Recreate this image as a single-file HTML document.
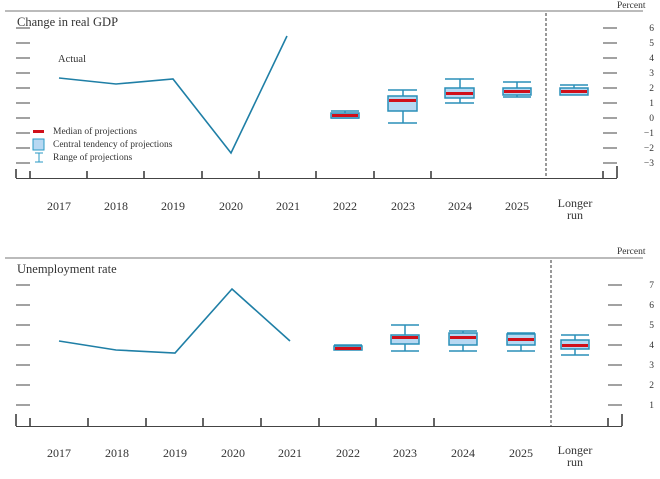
<!DOCTYPE html>
<html><head><style>
body{margin:0;background:#fff;width:660px;height:474px;overflow:hidden}
svg text{font-family:"Liberation Serif",serif;fill:#333}
</style></head><body>
<svg width="660" height="474" viewBox="0 0 660 474" xmlns="http://www.w3.org/2000/svg">
<!-- TOP CHART -->
<line x1="5" y1="11" x2="643" y2="11" stroke="#777" stroke-width="1"/>
<text x="617" y="8" font-size="9.5">Percent</text>
<text x="17" y="26" font-size="12.5" fill="#222">Change in real GDP</text>
<g stroke="#444" stroke-width="1">
<line x1="16" y1="28" x2="30" y2="28"/><line x1="16" y1="43" x2="30" y2="43"/><line x1="16" y1="58" x2="30" y2="58"/><line x1="16" y1="73" x2="30" y2="73"/><line x1="16" y1="88" x2="30" y2="88"/><line x1="16" y1="103" x2="30" y2="103"/><line x1="16" y1="118" x2="30" y2="118"/><line x1="16" y1="133" x2="30" y2="133"/><line x1="16" y1="148" x2="30" y2="148"/><line x1="16" y1="163" x2="30" y2="163"/>
<line x1="603" y1="28" x2="617" y2="28"/><line x1="603" y1="43" x2="617" y2="43"/><line x1="603" y1="58" x2="617" y2="58"/><line x1="603" y1="73" x2="617" y2="73"/><line x1="603" y1="88" x2="617" y2="88"/><line x1="603" y1="103" x2="617" y2="103"/><line x1="603" y1="118" x2="617" y2="118"/><line x1="603" y1="133" x2="617" y2="133"/><line x1="603" y1="148" x2="617" y2="148"/><line x1="603" y1="163" x2="617" y2="163"/>
<line x1="16" y1="178.5" x2="617" y2="178.5"/>
</g>
<g stroke="#333" stroke-width="1.5">
<line x1="16" y1="169" x2="16" y2="178"/><line x1="30" y1="171" x2="30" y2="178"/><line x1="87" y1="171" x2="87" y2="178"/><line x1="144" y1="171" x2="144" y2="178"/><line x1="202" y1="171" x2="202" y2="178"/><line x1="259" y1="171" x2="259" y2="178"/><line x1="316" y1="171" x2="316" y2="178"/><line x1="374" y1="171" x2="374" y2="178"/><line x1="431" y1="171" x2="431" y2="178"/><line x1="603" y1="171" x2="603" y2="178"/><line x1="617" y1="166" x2="617" y2="178"/>
</g>
<line x1="546" y1="13" x2="546" y2="178" stroke="#333" stroke-dasharray="3,2"/>
<g font-size="9.5" fill="#555" text-anchor="end">
<text x="654" y="31">6</text><text x="654" y="46">5</text><text x="654" y="61">4</text><text x="654" y="76">3</text><text x="654" y="91">2</text><text x="654" y="106">1</text><text x="654" y="121">0</text><text x="654" y="136">−1</text><text x="654" y="151">−2</text><text x="654" y="166">−3</text>
</g>
<g font-size="12" fill="#444" text-anchor="middle">
<text x="59" y="210">2017</text><text x="116" y="210">2018</text><text x="173" y="210">2019</text><text x="231" y="210">2020</text><text x="288" y="210">2021</text><text x="345" y="210">2022</text><text x="403" y="210">2023</text><text x="460" y="210">2024</text><text x="517" y="210">2025</text>
<text x="575" y="207" fill="#222">Longer</text><text x="575" y="219" fill="#222">run</text>
</g>
<text x="58" y="62" font-size="10.5" fill="#222">Actual</text>
<polyline points="59,78 116,84 173,79 231,153 287,36" fill="none" stroke="#1f7fa6" stroke-width="1.6"/>
<!-- legend -->
<rect x="33" y="130" width="11" height="3" fill="#d0101a"/>
<rect x="33" y="139" width="11" height="11" fill="#b7d8f2" stroke="#2a9ac4"/>
<line x1="35" y1="153" x2="43" y2="153" stroke="#2a9ac4"/><line x1="39" y1="153" x2="39" y2="162" stroke="#2a9ac4"/><line x1="35" y1="162" x2="43" y2="162" stroke="#2a9ac4"/>
<g font-size="9.5" fill="#222"><text x="53" y="134">Median of projections</text><text x="53" y="147">Central tendency of projections</text><text x="53" y="160">Range of projections</text></g>
<g stroke="#2a8fb8" stroke-width="1.5" fill="#b7d8f2">
<!-- 2022 -->
<line x1="345" y1="111" x2="345" y2="118"/><line x1="331" y1="111" x2="359" y2="111"/><line x1="331" y1="118" x2="359" y2="118"/><rect x="331" y="113" width="28" height="5"/>
<!-- 2023 -->
<line x1="403" y1="90" x2="403" y2="123"/><line x1="388" y1="90" x2="417" y2="90"/><line x1="388" y1="123" x2="417" y2="123"/><rect x="388" y="96" width="29" height="15"/>
<!-- 2024 -->
<line x1="460" y1="79" x2="460" y2="103"/><line x1="445" y1="79" x2="474" y2="79"/><line x1="445" y1="103" x2="474" y2="103"/><rect x="445" y="88" width="29" height="10"/>
<!-- 2025 -->
<line x1="517" y1="82" x2="517" y2="97"/><line x1="503" y1="82" x2="531" y2="82"/><line x1="503" y1="97" x2="531" y2="97"/><rect x="503" y="88" width="28" height="7"/>
<!-- LR -->
<line x1="574" y1="85" x2="574" y2="95"/><line x1="560" y1="85" x2="588" y2="85"/><rect x="560" y="88" width="28" height="7"/>
</g>
<g fill="#d0101a">
<rect x="332" y="114" width="26" height="3"/><rect x="389" y="99" width="27" height="3"/><rect x="446" y="92" width="27" height="3"/><rect x="504" y="90" width="26" height="3"/><rect x="561" y="90" width="26" height="3"/>
</g>

<!-- BOTTOM CHART -->
<line x1="5" y1="258" x2="643" y2="258" stroke="#777"/>
<text x="617" y="254" font-size="9.5">Percent</text>
<text x="17" y="273" font-size="12.5" fill="#222">Unemployment rate</text>
<g stroke="#444" stroke-width="1">
<line x1="16" y1="285" x2="30" y2="285"/><line x1="16" y1="305" x2="30" y2="305"/><line x1="16" y1="325" x2="30" y2="325"/><line x1="16" y1="345" x2="30" y2="345"/><line x1="16" y1="365" x2="30" y2="365"/><line x1="16" y1="385" x2="30" y2="385"/><line x1="16" y1="405" x2="30" y2="405"/>
<line x1="608" y1="285" x2="622" y2="285"/><line x1="608" y1="305" x2="622" y2="305"/><line x1="608" y1="325" x2="622" y2="325"/><line x1="608" y1="345" x2="622" y2="345"/><line x1="608" y1="365" x2="622" y2="365"/><line x1="608" y1="385" x2="622" y2="385"/><line x1="608" y1="405" x2="622" y2="405"/>
<line x1="16" y1="426.5" x2="622" y2="426.5"/>
</g>
<g stroke="#333" stroke-width="1.5">
<line x1="16" y1="414" x2="16" y2="426"/><line x1="30" y1="418" x2="30" y2="426"/><line x1="88" y1="418" x2="88" y2="426"/><line x1="146" y1="418" x2="146" y2="426"/><line x1="203" y1="418" x2="203" y2="426"/><line x1="261" y1="418" x2="261" y2="426"/><line x1="319" y1="418" x2="319" y2="426"/><line x1="376" y1="418" x2="376" y2="426"/><line x1="434" y1="418" x2="434" y2="426"/><line x1="608" y1="418" x2="608" y2="426"/><line x1="622" y1="414" x2="622" y2="426"/>
</g>
<line x1="551" y1="260" x2="551" y2="426" stroke="#333" stroke-dasharray="3,2"/>
<g font-size="9.5" fill="#555" text-anchor="end">
<text x="654" y="288">7</text><text x="654" y="308">6</text><text x="654" y="328">5</text><text x="654" y="348">4</text><text x="654" y="368">3</text><text x="654" y="388">2</text><text x="654" y="408">1</text>
</g>
<g font-size="12" fill="#444" text-anchor="middle">
<text x="59" y="457">2017</text><text x="117" y="457">2018</text><text x="175" y="457">2019</text><text x="233" y="457">2020</text><text x="290" y="457">2021</text><text x="348" y="457">2022</text><text x="405" y="457">2023</text><text x="463" y="457">2024</text><text x="521" y="457">2025</text>
<text x="575" y="454" fill="#222">Longer</text><text x="575" y="466" fill="#222">run</text>
</g>
<polyline points="59,341 116,350 175,353 232,289 290,341" fill="none" stroke="#1f7fa6" stroke-width="1.6"/>
<g stroke="#2a8fb8" stroke-width="1.5" fill="#b7d8f2">
<line x1="348" y1="345" x2="348" y2="350"/><line x1="334" y1="345" x2="362" y2="345"/><rect x="334" y="346" width="28" height="4"/>
<line x1="405" y1="325" x2="405" y2="351"/><line x1="391" y1="325" x2="419" y2="325"/><line x1="391" y1="351" x2="419" y2="351"/><rect x="391" y="335" width="28" height="9"/>
<line x1="463" y1="331" x2="463" y2="351"/><line x1="449" y1="331" x2="477" y2="331"/><line x1="449" y1="351" x2="477" y2="351"/><rect x="449" y="333" width="28" height="12"/>
<line x1="521" y1="333" x2="521" y2="351"/><line x1="507" y1="333" x2="535" y2="333"/><line x1="507" y1="351" x2="535" y2="351"/><rect x="507" y="334" width="28" height="11"/>
<line x1="575" y1="335" x2="575" y2="355"/><line x1="561" y1="335" x2="589" y2="335"/><line x1="561" y1="355" x2="589" y2="355"/><rect x="561" y="340" width="28" height="9"/>
</g>
<g fill="#d0101a">
<rect x="335" y="347" width="26" height="3"/><rect x="392" y="336" width="26" height="3"/><rect x="450" y="336" width="26" height="3"/><rect x="508" y="338" width="26" height="3"/><rect x="562" y="344" width="26" height="3"/>
</g>
</svg>
</body></html>
